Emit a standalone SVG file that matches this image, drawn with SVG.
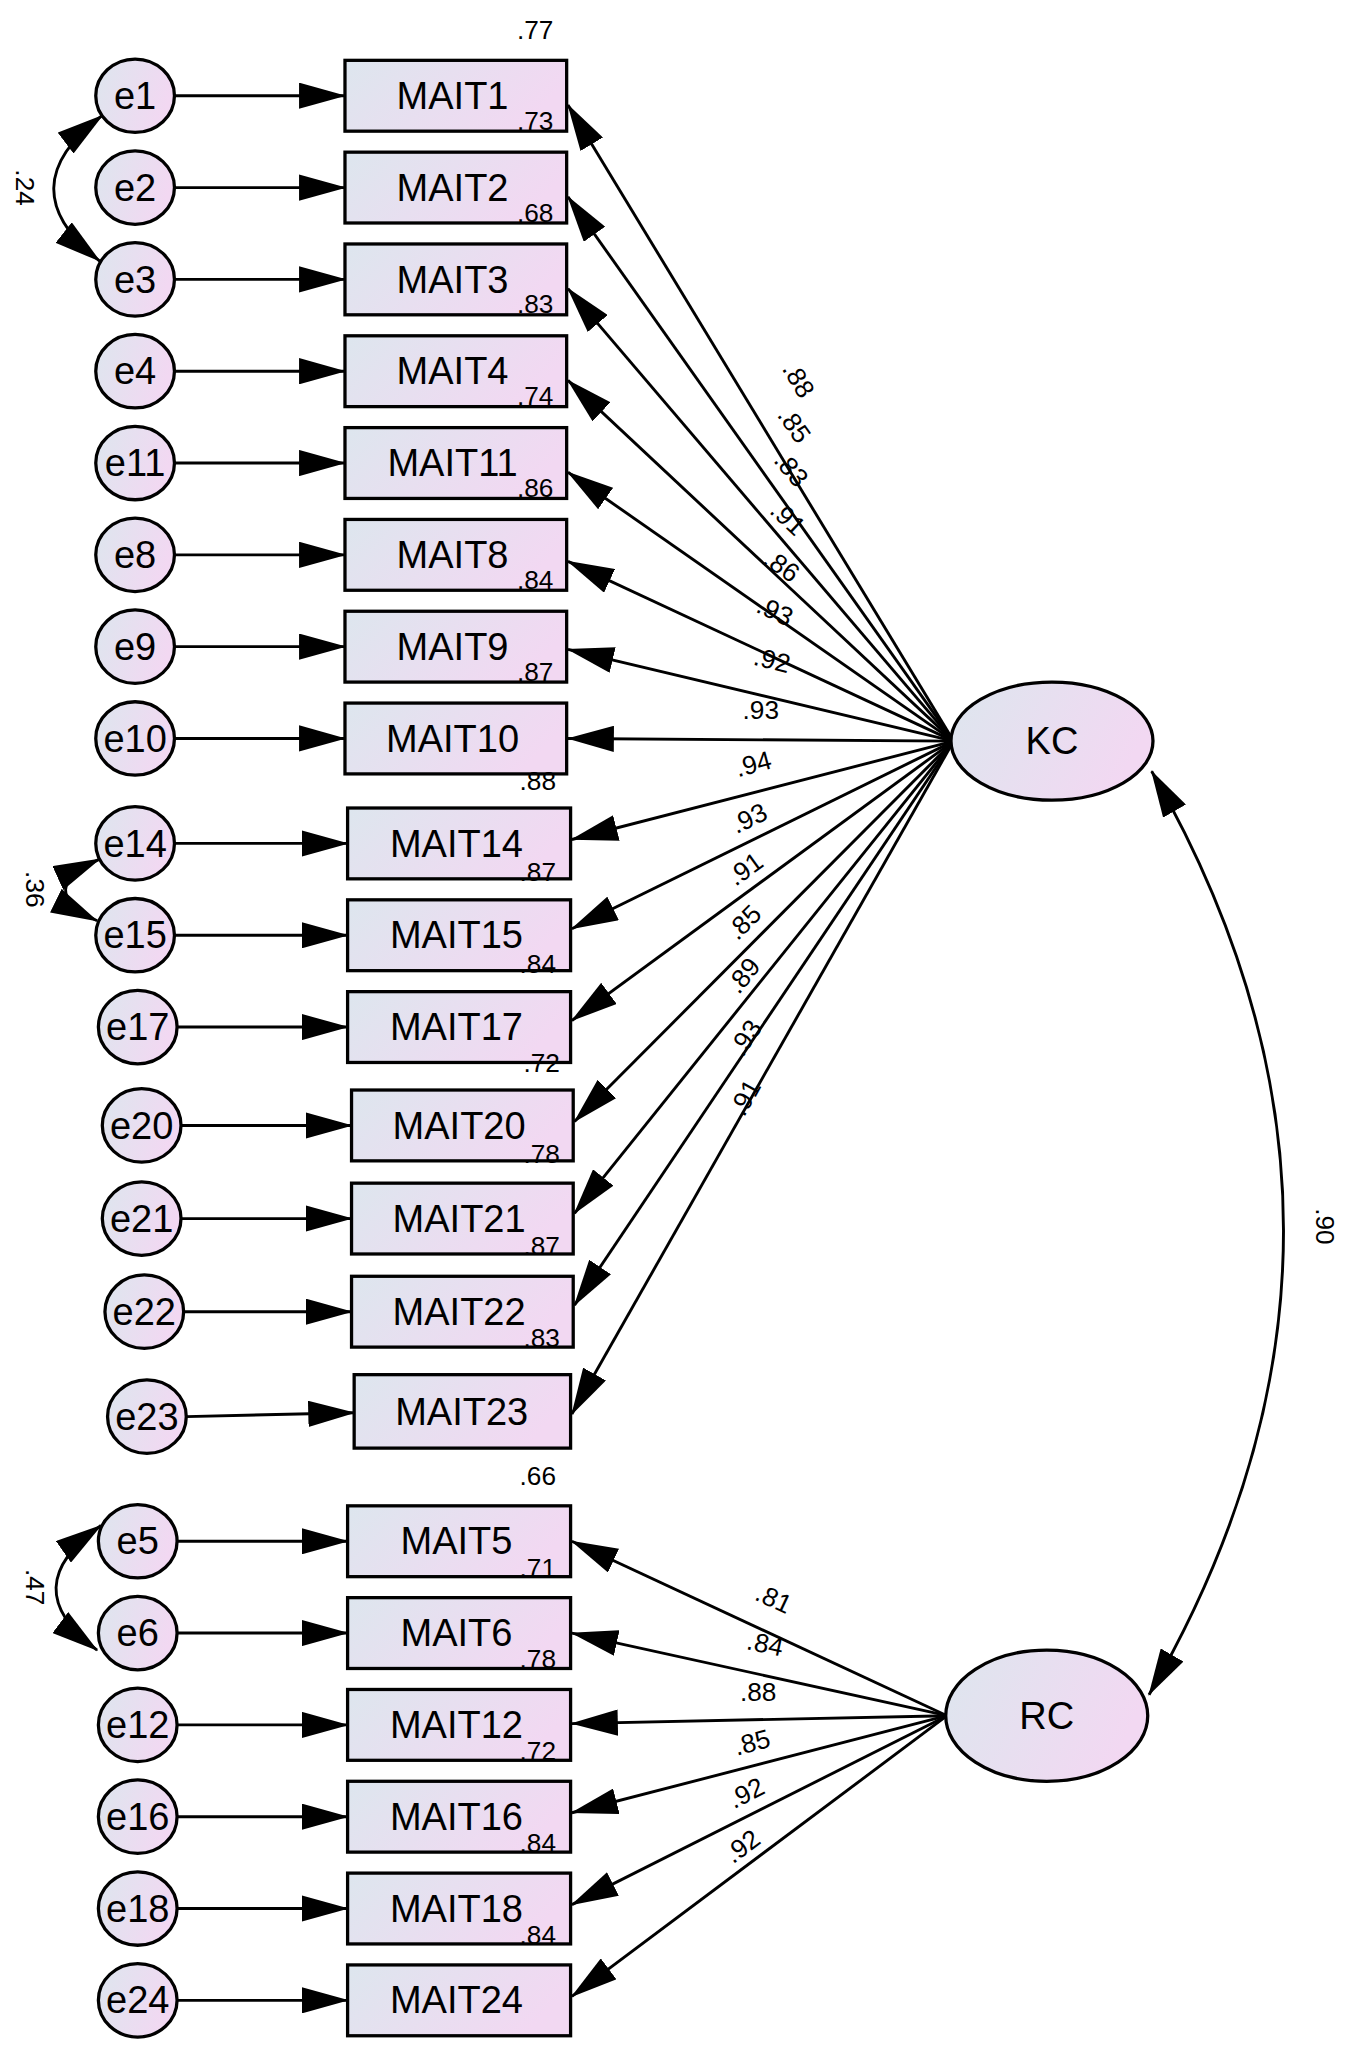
<svg xmlns="http://www.w3.org/2000/svg" width="1351" height="2046" viewBox="0 0 1351 2046">
<defs>
<linearGradient id="g" x1="0" y1="0" x2="1" y2="0.3"><stop offset="0" stop-color="#dde6ee"/><stop offset="1" stop-color="#f2d8f2"/></linearGradient>
<marker id="a" markerUnits="userSpaceOnUse" markerWidth="36" markerHeight="20" viewBox="0 0 36 20" refX="35" refY="10" orient="auto-start-reverse"><path d="M0,0 L36,10 L0,20 Z" fill="#000"/></marker>
<style>
.n{fill:url(#g);stroke:#000;stroke-width:2.5}
.t{font-family:"Liberation Sans",Arial,sans-serif;font-size:29px;text-anchor:middle;fill:#000}
.s{font-family:"Liberation Sans",Arial,sans-serif;font-size:20px;text-anchor:middle;fill:#000}
.c line,.c path{stroke:#000;stroke-width:2.2;fill:none}
</style>
</defs>
<g transform="scale(1.3117)">
<g class="c" id="connectors">
<line x1="133" y1="73" x2="263" y2="73" marker-end="url(#a)"/>
<line x1="133" y1="143" x2="263" y2="143" marker-end="url(#a)"/>
<line x1="133" y1="213" x2="263" y2="213" marker-end="url(#a)"/>
<line x1="133" y1="283" x2="263" y2="283" marker-end="url(#a)"/>
<line x1="133" y1="353" x2="263" y2="353" marker-end="url(#a)"/>
<line x1="133" y1="423" x2="263" y2="423" marker-end="url(#a)"/>
<line x1="133" y1="493" x2="263" y2="493" marker-end="url(#a)"/>
<line x1="133" y1="563" x2="263" y2="563" marker-end="url(#a)"/>
<line x1="133" y1="643" x2="265" y2="643" marker-end="url(#a)"/>
<line x1="133" y1="713" x2="265" y2="713" marker-end="url(#a)"/>
<line x1="135" y1="783" x2="265" y2="783" marker-end="url(#a)"/>
<line x1="138" y1="858" x2="268" y2="858" marker-end="url(#a)"/>
<line x1="138" y1="929" x2="268" y2="929" marker-end="url(#a)"/>
<line x1="140" y1="1000" x2="268" y2="1000" marker-end="url(#a)"/>
<line x1="142" y1="1080" x2="270" y2="1077" marker-end="url(#a)"/>
<line x1="135" y1="1175" x2="265" y2="1175" marker-end="url(#a)"/>
<line x1="135" y1="1245" x2="265" y2="1245" marker-end="url(#a)"/>
<line x1="135" y1="1315" x2="265" y2="1315" marker-end="url(#a)"/>
<line x1="135" y1="1385" x2="265" y2="1385" marker-end="url(#a)"/>
<line x1="135" y1="1455" x2="265" y2="1455" marker-end="url(#a)"/>
<line x1="135" y1="1525" x2="265" y2="1525" marker-end="url(#a)"/>
<line x1="727" y1="565" x2="433" y2="80" marker-end="url(#a)"/>
<line x1="727" y1="565" x2="433" y2="150" marker-end="url(#a)"/>
<line x1="727" y1="565" x2="433" y2="220" marker-end="url(#a)"/>
<line x1="727" y1="565" x2="433" y2="290" marker-end="url(#a)"/>
<line x1="727" y1="565" x2="433" y2="360" marker-end="url(#a)"/>
<line x1="727" y1="565" x2="433" y2="428" marker-end="url(#a)"/>
<line x1="727" y1="565" x2="433" y2="495" marker-end="url(#a)"/>
<line x1="727" y1="565" x2="433" y2="563" marker-end="url(#a)"/>
<line x1="727" y1="565" x2="436" y2="640" marker-end="url(#a)"/>
<line x1="727" y1="565" x2="436" y2="708" marker-end="url(#a)"/>
<line x1="727" y1="565" x2="436" y2="778" marker-end="url(#a)"/>
<line x1="727" y1="565" x2="438" y2="855" marker-end="url(#a)"/>
<line x1="727" y1="565" x2="438" y2="925" marker-end="url(#a)"/>
<line x1="727" y1="565" x2="438" y2="995" marker-end="url(#a)"/>
<line x1="727" y1="565" x2="436" y2="1078" marker-end="url(#a)"/>
<line x1="722" y1="1308" x2="436" y2="1175" marker-end="url(#a)"/>
<line x1="722" y1="1308" x2="436" y2="1245" marker-end="url(#a)"/>
<line x1="722" y1="1308" x2="436" y2="1314" marker-end="url(#a)"/>
<line x1="722" y1="1308" x2="436" y2="1382" marker-end="url(#a)"/>
<line x1="722" y1="1308" x2="436" y2="1452" marker-end="url(#a)"/>
<line x1="722" y1="1308" x2="436" y2="1522" marker-end="url(#a)"/>
<path d="M878,588 Q1080,940 876,1292" marker-start="url(#a)" marker-end="url(#a)"/>
<path d="M78,88 Q5,143 76,199" marker-start="url(#a)" marker-end="url(#a)"/>
<path d="M76,655 Q25,678 74,702" marker-start="url(#a)" marker-end="url(#a)"/>
<path d="M77,1163 Q10,1210 74,1258" marker-start="url(#a)" marker-end="url(#a)"/>
</g>
<g id="errors">
<g id="e1"><ellipse class="n" cx="103" cy="73" rx="30" ry="28"/><text class="t" x="103" y="83">e1</text></g>
<g id="e2"><ellipse class="n" cx="103" cy="143" rx="30" ry="28"/><text class="t" x="103" y="153">e2</text></g>
<g id="e3"><ellipse class="n" cx="103" cy="213" rx="30" ry="28"/><text class="t" x="103" y="223">e3</text></g>
<g id="e4"><ellipse class="n" cx="103" cy="283" rx="30" ry="28"/><text class="t" x="103" y="293">e4</text></g>
<g id="e11"><ellipse class="n" cx="103" cy="353" rx="30" ry="28"/><text class="t" x="103" y="363">e11</text></g>
<g id="e8"><ellipse class="n" cx="103" cy="423" rx="30" ry="28"/><text class="t" x="103" y="433">e8</text></g>
<g id="e9"><ellipse class="n" cx="103" cy="493" rx="30" ry="28"/><text class="t" x="103" y="503">e9</text></g>
<g id="e10"><ellipse class="n" cx="103" cy="563" rx="30" ry="28"/><text class="t" x="103" y="573">e10</text></g>
<g id="e14"><ellipse class="n" cx="103" cy="643" rx="30" ry="28"/><text class="t" x="103" y="653">e14</text></g>
<g id="e15"><ellipse class="n" cx="103" cy="713" rx="30" ry="28"/><text class="t" x="103" y="723">e15</text></g>
<g id="e17"><ellipse class="n" cx="105" cy="783" rx="30" ry="28"/><text class="t" x="105" y="793">e17</text></g>
<g id="e20"><ellipse class="n" cx="108" cy="858" rx="30" ry="28"/><text class="t" x="108" y="868">e20</text></g>
<g id="e21"><ellipse class="n" cx="108" cy="929" rx="30" ry="28"/><text class="t" x="108" y="939">e21</text></g>
<g id="e22"><ellipse class="n" cx="110" cy="1000" rx="30" ry="28"/><text class="t" x="110" y="1010">e22</text></g>
<g id="e23"><ellipse class="n" cx="112" cy="1080" rx="30" ry="28"/><text class="t" x="112" y="1090">e23</text></g>
<g id="e5"><ellipse class="n" cx="105" cy="1175" rx="30" ry="28"/><text class="t" x="105" y="1185">e5</text></g>
<g id="e6"><ellipse class="n" cx="105" cy="1245" rx="30" ry="28"/><text class="t" x="105" y="1255">e6</text></g>
<g id="e12"><ellipse class="n" cx="105" cy="1315" rx="30" ry="28"/><text class="t" x="105" y="1325">e12</text></g>
<g id="e16"><ellipse class="n" cx="105" cy="1385" rx="30" ry="28"/><text class="t" x="105" y="1395">e16</text></g>
<g id="e18"><ellipse class="n" cx="105" cy="1455" rx="30" ry="28"/><text class="t" x="105" y="1465">e18</text></g>
<g id="e24"><ellipse class="n" cx="105" cy="1525" rx="30" ry="28"/><text class="t" x="105" y="1535">e24</text></g>
</g>
<g id="items">
<g id="MAIT1"><rect class="n" x="263" y="46" width="169" height="54"/><text class="t" x="345" y="83">MAIT1</text></g>
<g id="MAIT2"><rect class="n" x="263" y="116" width="169" height="54"/><text class="t" x="345" y="153">MAIT2</text></g>
<g id="MAIT3"><rect class="n" x="263" y="186" width="169" height="54"/><text class="t" x="345" y="223">MAIT3</text></g>
<g id="MAIT4"><rect class="n" x="263" y="256" width="169" height="54"/><text class="t" x="345" y="293">MAIT4</text></g>
<g id="MAIT11"><rect class="n" x="263" y="326" width="169" height="54"/><text class="t" x="345" y="363">MAIT11</text></g>
<g id="MAIT8"><rect class="n" x="263" y="396" width="169" height="54"/><text class="t" x="345" y="433">MAIT8</text></g>
<g id="MAIT9"><rect class="n" x="263" y="466" width="169" height="54"/><text class="t" x="345" y="503">MAIT9</text></g>
<g id="MAIT10"><rect class="n" x="263" y="536" width="169" height="54"/><text class="t" x="345" y="573">MAIT10</text></g>
<g id="MAIT14"><rect class="n" x="265" y="616" width="170" height="54"/><text class="t" x="348" y="653">MAIT14</text></g>
<g id="MAIT15"><rect class="n" x="265" y="686" width="170" height="54"/><text class="t" x="348" y="723">MAIT15</text></g>
<g id="MAIT17"><rect class="n" x="265" y="756" width="170" height="54"/><text class="t" x="348" y="793">MAIT17</text></g>
<g id="MAIT20"><rect class="n" x="268" y="831" width="169" height="54"/><text class="t" x="350" y="868">MAIT20</text></g>
<g id="MAIT21"><rect class="n" x="268" y="902" width="169" height="54"/><text class="t" x="350" y="939">MAIT21</text></g>
<g id="MAIT22"><rect class="n" x="268" y="973" width="169" height="54"/><text class="t" x="350" y="1010">MAIT22</text></g>
<g id="MAIT23"><rect class="n" x="270" y="1048" width="165" height="56"/><text class="t" x="352" y="1086">MAIT23</text></g>
<g id="MAIT5"><rect class="n" x="265" y="1148" width="170" height="54"/><text class="t" x="348" y="1185">MAIT5</text></g>
<g id="MAIT6"><rect class="n" x="265" y="1218" width="170" height="54"/><text class="t" x="348" y="1255">MAIT6</text></g>
<g id="MAIT12"><rect class="n" x="265" y="1288" width="170" height="54"/><text class="t" x="348" y="1325">MAIT12</text></g>
<g id="MAIT16"><rect class="n" x="265" y="1358" width="170" height="54"/><text class="t" x="348" y="1395">MAIT16</text></g>
<g id="MAIT18"><rect class="n" x="265" y="1428" width="170" height="54"/><text class="t" x="348" y="1465">MAIT18</text></g>
<g id="MAIT24"><rect class="n" x="265" y="1498" width="170" height="54"/><text class="t" x="348" y="1535">MAIT24</text></g>
</g>
<g id="KC"><ellipse class="n" cx="802" cy="565" rx="77" ry="45"/><text class="t" x="802" y="575">KC</text></g>
<g id="RC"><ellipse class="n" cx="798" cy="1308" rx="77" ry="50"/><text class="t" x="798" y="1318">RC</text></g>
<g id="labels">
<text class="s" x="408" y="30">.77</text>
<text class="s" x="408" y="99">.73</text>
<text class="s" x="408" y="169">.68</text>
<text class="s" x="408" y="239">.83</text>
<text class="s" x="408" y="309">.74</text>
<text class="s" x="408" y="379">.86</text>
<text class="s" x="408" y="449">.84</text>
<text class="s" x="408" y="519">.87</text>
<text class="s" x="410" y="602">.88</text>
<text class="s" x="410" y="672">.87</text>
<text class="s" x="410" y="742">.84</text>
<text class="s" x="413" y="817">.72</text>
<text class="s" x="413" y="887">.78</text>
<text class="s" x="413" y="957">.87</text>
<text class="s" x="413" y="1027">.83</text>
<text class="s" x="410" y="1132">.66</text>
<text class="s" x="410" y="1202">.71</text>
<text class="s" x="410" y="1272">.78</text>
<text class="s" x="410" y="1342">.72</text>
<text class="s" x="410" y="1412">.84</text>
<text class="s" x="410" y="1482">.84</text>
<text class="s" transform="translate(603,293) rotate(59)">.88</text>
<text class="s" transform="translate(600,328) rotate(55)">.85</text>
<text class="s" transform="translate(598,362) rotate(50)">.83</text>
<text class="s" transform="translate(596,400) rotate(43)">.91</text>
<text class="s" transform="translate(592,437) rotate(35)">.86</text>
<text class="s" transform="translate(588,472) rotate(25)">.93</text>
<text class="s" transform="translate(587,510) rotate(14)">.92</text>
<text class="s" transform="translate(580,548)">.93</text>
<text class="s" transform="translate(576,589) rotate(-15)">.94</text>
<text class="s" transform="translate(574,630) rotate(-26)">.93</text>
<text class="s" transform="translate(572,668) rotate(-36)">.91</text>
<text class="s" transform="translate(572,708) rotate(-45)">.85</text>
<text class="s" transform="translate(572,748) rotate(-51)">.89</text>
<text class="s" transform="translate(574,795) rotate(-56)">.93</text>
<text class="s" transform="translate(574,840) rotate(-61)">.91</text>
<text class="s" transform="translate(587,1225) rotate(25)">.81</text>
<text class="s" transform="translate(582,1260) rotate(12)">.84</text>
<text class="s" transform="translate(578,1297)">.88</text>
<text class="s" transform="translate(575,1335) rotate(-15)">.85</text>
<text class="s" transform="translate(572,1373) rotate(-27)">.92</text>
<text class="s" transform="translate(570,1413) rotate(-37)">.92</text>
<text class="s" transform="translate(1003,935) rotate(90)">.90</text>
<text class="s" transform="translate(12,143) rotate(90)">.24</text>
<text class="s" transform="translate(20,678) rotate(90)">.36</text>
<text class="s" transform="translate(20,1210) rotate(90)">.47</text>
</g>
</g>
</svg>
